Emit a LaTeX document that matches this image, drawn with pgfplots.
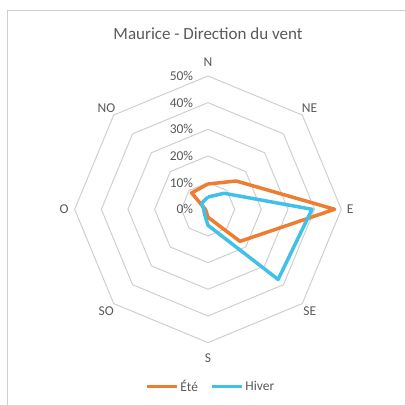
\documentclass[border=0pt]{standalone}
\usepackage{fontspec}
\setmainfont{Carlito}
\usepackage{pgfplots}
\pgfplotsset{compat=1.18}
\usepgfplotslibrary{polar}
\definecolor{ete}{HTML}{ED7D31}
\definecolor{hiver}{HTML}{41C0EA}
\definecolor{gridc}{HTML}{CFCFCF}
\definecolor{txt}{HTML}{595959}
\tikzset{lab/.style={text=txt, font=\fontsize{13.5}{15}\selectfont},
  rlab/.style={lab, anchor=east, inner sep=0pt, xshift=-14.7pt}}
\begin{document}
\begin{tikzpicture}
\useasboundingbox (-208pt,-195.7pt) rectangle (197pt,209.3pt);
\draw[gridc, line width=1pt] (-200pt,-230pt) -- (-200pt,199.3pt) -- (230pt,199.3pt);
\node[text=txt, font=\fontsize{17}{20}\selectfont] at (0pt,176pt) {Maurice - Direction du vent};
\begin{polaraxis}[
  at={(0pt,0pt)}, anchor=center,
  width=266.67pt, height=266.67pt, scale only axis,
  ymin=0, ymax=50, xmin=0, xmax=360,
  hide axis, clip=false,
  legend columns=2,
  legend style={draw=none, fill=none, at={(0.51,-0.165)}, anchor=center,
    font=\fontsize{13.5}{15}\selectfont, text=txt,
    /tikz/every even column/.append style={column sep=10pt}},
  legend image code/.code={\draw[#1, line width=3.5pt] (0pt,0pt) -- (30pt,0pt);},
]
\addplot[gridc, line width=1pt, forget plot] coordinates {(0,10) (45,10) (90,10) (135,10) (180,10) (225,10) (270,10) (315,10) (360,10)};
\addplot[gridc, line width=1pt, forget plot] coordinates {(0,20) (45,20) (90,20) (135,20) (180,20) (225,20) (270,20) (315,20) (360,20)};
\addplot[gridc, line width=1pt, forget plot] coordinates {(0,30) (45,30) (90,30) (135,30) (180,30) (225,30) (270,30) (315,30) (360,30)};
\addplot[gridc, line width=1pt, forget plot] coordinates {(0,40) (45,40) (90,40) (135,40) (180,40) (225,40) (270,40) (315,40) (360,40)};
\addplot[gridc, line width=1pt, forget plot] coordinates {(0,50) (45,50) (90,50) (135,50) (180,50) (225,50) (270,50) (315,50) (360,50)};
% Ete
\addplot[ete, line width=3.5pt, line join=round] coordinates {(90,9.5) (45,15) (0,47.5) (315,17) (270,3) (225,1) (180,1) (135,8.7) (90,9.5)};
\addlegendentry{Été}
% Hiver
\addplot[hiver, line width=3.5pt, line join=round] coordinates {(90,4.6) (45,8.5) (0,39) (315,37.2) (270,6) (225,2) (180,1.6) (135,3.3) (90,4.6)};
\addlegendentry{Hiver}
% radial labels
\node[rlab] at (axis cs:90,0) {0\%};
\node[rlab] at (axis cs:90,10) {10\%};
\node[rlab] at (axis cs:90,20) {20\%};
\node[rlab] at (axis cs:90,30) {30\%};
\node[rlab] at (axis cs:90,40) {40\%};
\node[rlab] at (axis cs:90,50) {50\%};
\node[lab] at (axis cs:90,55.3) {N};
\node[lab] at (axis cs:45,53.8) {NE};
\node[lab] at (axis cs:0,53.3) {E};
\node[lab] at (axis cs:315,54) {SE};
\node[lab] at (axis cs:270,55.8) {S};
\node[lab] at (axis cs:225,54) {SO};
\node[lab] at (axis cs:180,54) {O};
\node[lab] at (axis cs:135,53.8) {NO};
\end{polaraxis}
\end{tikzpicture}
\end{document}
